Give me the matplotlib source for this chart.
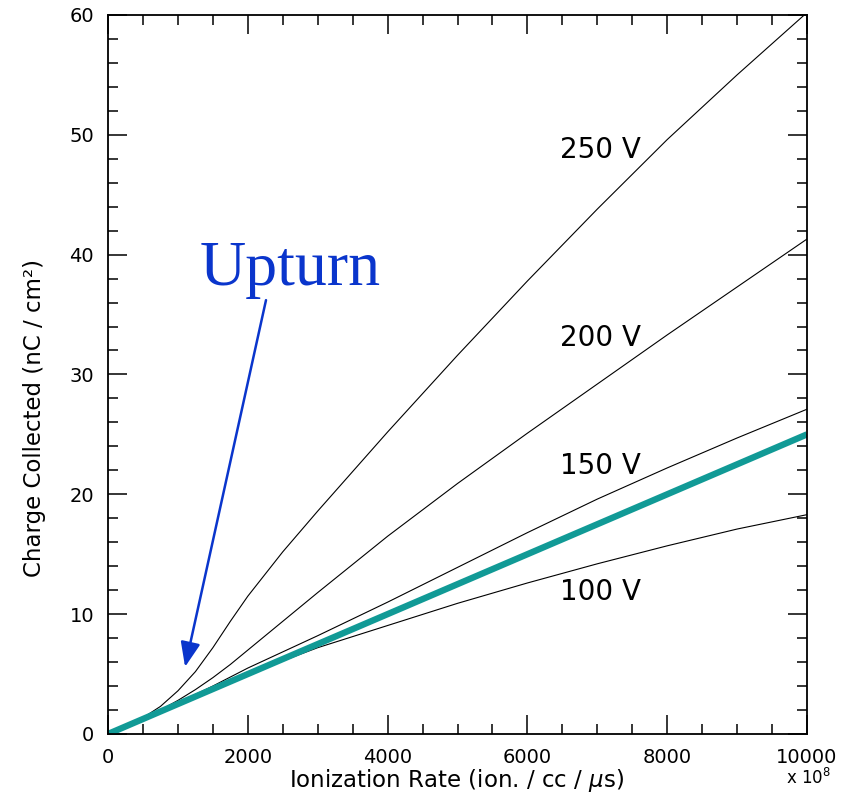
"""Charge collected vs ionization rate for several bias voltages."""

import matplotlib

matplotlib.use("Agg")
import matplotlib.pyplot as plt
from matplotlib.ticker import MultipleLocator

# ionization rate (x 10^8 ion / cc / us)
rate = [0, 500, 750, 1000, 1250, 1500, 1750, 2000, 2500, 3000, 4000, 5000,
        6000, 7000, 8000, 9000, 10000]

# charge collected (nC / cm^2) per bias voltage
q_250 = [0, 1.35, 2.3, 3.6, 5.2, 7.2, 9.4, 11.5, 15.2, 18.6, 25.2, 31.6,
         37.8, 43.8, 49.6, 55.0, 60.2]
q_200 = [0, 1.3, 2.0, 2.8, 3.7, 4.7, 5.8, 7.0, 9.4, 11.8, 16.5, 20.9,
         25.1, 29.2, 33.3, 37.3, 41.3]
q_150 = [0, 1.25, 1.9, 2.6, 3.3, 4.0, 4.75, 5.5, 6.85, 8.2, 11.0, 13.9,
         16.8, 19.6, 22.2, 24.7, 27.1]
q_100 = [0, 1.25, 1.88, 2.5, 3.1, 3.75, 4.35, 4.95, 6.1, 7.2, 9.05, 10.9,
         12.6, 14.2, 15.7, 17.1, 18.3]

# linear reference
lin_x = [0, 10000]
lin_y = [0, 25]

curves = [("250 V", q_250, 48.75), ("200 V", q_200, 33.05),
          ("150 V", q_150, 22.4), ("100 V", q_100, 11.85)]

fig = plt.figure(figsize=(8.52, 7.99), dpi=100)
ax = fig.add_axes([0.1268, 0.0814, 0.8204, 0.8999])

for label, q, label_y in curves:
    ax.plot(rate, q, color="black", linewidth=0.8)
    ax.text(7040, label_y, label, fontsize=20, ha="center", va="center")

ax.plot(lin_x, lin_y, color="#119a96", linewidth=4.6, solid_capstyle="butt")

blue = "#0a35cc"
ax.annotate("", xy=(1102, 5.6), xytext=(2260, 36.2),
            arrowprops=dict(arrowstyle="-|>,head_length=1.5,head_width=0.6",
                            color=blue, linewidth=1.8, shrinkA=0, shrinkB=0))
ax.text(2600, 37.5, "Upturn", color=blue, fontsize=46, family="Liberation Serif",
        ha="center", va="baseline")

ax.set_xlim(0, 10000)
ax.set_ylim(0, 60)
ax.xaxis.set_major_locator(MultipleLocator(2000))
ax.xaxis.set_minor_locator(MultipleLocator(500))
ax.yaxis.set_major_locator(MultipleLocator(10))
ax.yaxis.set_minor_locator(MultipleLocator(2))
ax.tick_params(which="both", direction="in", top=True, right=True, labelsize=14, width=1.1)
ax.tick_params(which="major", length=14)
ax.tick_params(which="minor", length=7)
ax.tick_params(axis="x", pad=10)
ax.tick_params(axis="y", pad=10)
for spine in ax.spines.values():
    spine.set_linewidth(1.3)

fig.text(457 / 852, 1 - 780 / 799, r"Ionization Rate (ion. / cc / $\mu$s)",
         fontsize=16.5, ha="center", va="center")
fig.text(35 / 852, 1 - 418 / 799, "Charge Collected (nC / cm²)",
         fontsize=16.5, ha="center", va="center", rotation=90)
fig.text(808 / 852, 1 - 778 / 799, r"x 10$^{8}$", fontsize=12, ha="center", va="center")

fig.savefig("out.png", dpi=100)
